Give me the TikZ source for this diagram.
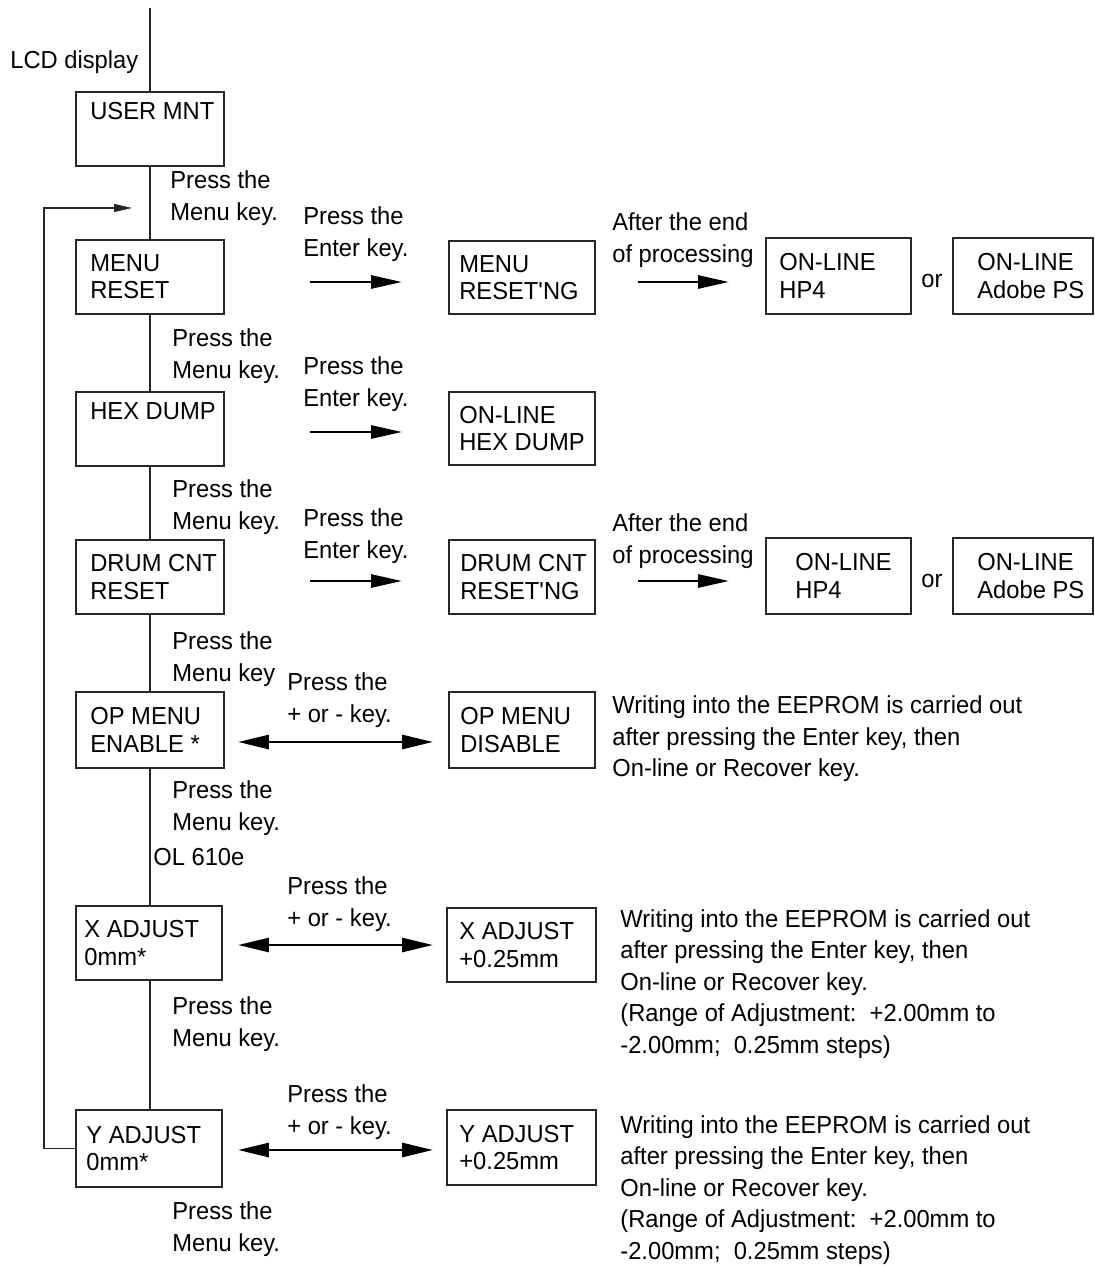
\documentclass[tikz,border=0pt]{standalone}
\usepackage{fontspec}
\setmainfont{Liberation Sans}[FakeStretch=0.965]
\newfontfamily\diagfont{Liberation Sans}[FakeStretch=0.965]
\usetikzlibrary{arrows.meta,fit,calc}
\newcommand\dispbox[7]{%
  \coordinate (#1-a) at (#2,#3);
  \coordinate (#1-b) at (#4,#5);
  \node[boxframe, fit=(#1-a)(#1-b)] (#1) {};
  \node[btxt] (#1-t) at ($(#1.west)+(#6,0)$) {#7};}
\begin{document}
\begin{tikzpicture}[x=0.02cm,y=-0.02cm,
  lbl/.style={font=\diagfont\fontsize{14pt}{18pt}\selectfont, align=left, anchor=west, inner sep=0pt},
  btxt/.style={font=\diagfont\fontsize{14pt}{15.5pt}\selectfont, align=left, anchor=west, inner sep=0pt},
  boxframe/.style={draw=black!85, line width=0.6pt, inner sep=0pt, outer sep=0pt},
  flow/.style={line width=0.6pt, draw=black!85},
  harrow/.style={line width=1.6pt, -{Triangle[length=0.62cm,width=0.26cm]}},
  darrow/.style={line width=1.6pt, {Triangle[length=0.62cm,width=0.28cm]}-{Triangle[length=0.62cm,width=0.28cm]}},
  looparrow/.style={line width=0.6pt, draw=black!85, -{Triangle[length=0.36cm,width=0.16cm]}}]
\useasboundingbox (0,0) rectangle (1094,1266);

% boxes
\dispbox{usr}{76}{92}{224}{166}{14}{USER MNT\\\strut}
\dispbox{mr}{76}{240}{224}{314}{14}{MENU\\RESET}
\dispbox{mrg}{449}{241}{595}{314}{10}{MENU\\RESET'NG}
\dispbox{hpa}{766}{238}{911}{314}{13}{ON-LINE\\HP4}
\dispbox{psa}{953}{238}{1093}{314}{24}{ON-LINE\\Adobe PS}
\dispbox{hex}{76}{392}{224}{466}{14}{HEX DUMP\\\strut}
\dispbox{hexo}{449}{392}{595}{465}{10}{ON-LINE\\HEX DUMP}
\dispbox{drum}{76}{540}{224}{614}{14}{DRUM CNT\\RESET}
\dispbox{drumg}{449}{540}{595}{614}{11}{DRUM CNT\\RESET'NG}
\dispbox{hpb}{766}{538}{911}{614}{29}{ON-LINE\\HP4}
\dispbox{psb}{953}{538}{1093}{614}{24}{ON-LINE\\Adobe PS}
\dispbox{op}{76}{692}{224}{768}{14}{OP MENU\\ENABLE *}
\dispbox{opd}{449}{692}{595}{768}{11}{OP MENU\\DISABLE}
\dispbox{xa}{76}{906}{222}{980}{8}{X ADJUST\\0mm*}
\dispbox{xap}{447}{908}{596}{982}{12}{X ADJUST\\+0.25mm}
\dispbox{ya}{76}{1110}{222}{1187}{10}{Y ADJUST\\0mm*}
\dispbox{yap}{447}{1110}{596}{1185}{12}{Y ADJUST\\+0.25mm}

% main flow line
\coordinate (top) at (150,8);
\draw[flow] (top) -- (usr.north);
\draw[flow] (usr.south) -- (mr.north);
\draw[flow] (mr.south) -- (hex.north);
\draw[flow] (hex.south) -- (drum.north);
\draw[flow] (drum.south) -- (op.north);
\draw[flow] (op.south) -- (op.south |- xa.north);
\draw[flow] (xa.south -| op.south) -- (op.south |- ya.north);

% loop back
\coordinate (lpc) at (44,208);
\coordinate (lpe) at (132,208);
\draw[looparrow] (ya.west) -| (lpc) -- (lpe);

% labels
\node[lbl] (lcd) at (10,62) {LCD display};
\node[lbl] (m1) at (170,198) {Press the\\Menu key.};
\node[lbl] (e1) at (303,234) {Press the\\Enter key.};
\node[lbl] (p1) at (612,240) {After the end\\of processing};
\node[lbl] (or1) at (921,281) {or};
\node[lbl] (m2) at (172,356) {Press the\\Menu key.};
\node[lbl] (e2) at (303,384) {Press the\\Enter key.};
\node[lbl] (m3) at (172,507) {Press the\\Menu key.};
\node[lbl] (e3) at (303,536) {Press the\\Enter key.};
\node[lbl] (p2) at (612,541) {After the end\\of processing};
\node[lbl] (or2) at (921,581) {or};
\node[lbl] (m4) at (172,659) {Press the\\Menu key};
\node[lbl] (k1) at (287,700) {Press the\\+ or - key.};
\node[lbl] (w1) at (612,739) {Writing into the EEPROM is carried out\\after pressing the Enter key, then\\On-line or Recover key.};
\node[lbl] (m5) at (172,808) {Press the\\Menu key.};
\node[lbl] (ol) at (153,857) {OL 610e};
\node[lbl] (k2) at (287,904) {Press the\\+ or - key.};
\node[lbl] (w2) at (620,984) {Writing into the EEPROM is carried out\\after pressing the Enter key, then\\On-line or Recover key.\\(Range of Adjustment:\ \ +2.00mm to\\-2.00mm;\ \ 0.25mm steps)};
\node[lbl] (m6) at (172,1024) {Press the\\Menu key.};
\node[lbl] (k3) at (287,1112) {Press the\\+ or - key.};
\node[lbl] (w3) at (620,1190) {Writing into the EEPROM is carried out\\after pressing the Enter key, then\\On-line or Recover key.\\(Range of Adjustment:\ \ +2.00mm to\\-2.00mm;\ \ 0.25mm steps)};
\node[lbl] (m7) at (172,1229) {Press the\\Menu key.};

% horizontal arrows
\coordinate (a1s) at (310,282); \coordinate (a1e) at (402,282);
\coordinate (b1s) at (638,282); \coordinate (b1e) at (729,282);
\coordinate (a2s) at (310,432); \coordinate (a2e) at (402,432);
\coordinate (a3s) at (310,581); \coordinate (a3e) at (402,581);
\coordinate (b3s) at (638,581); \coordinate (b3e) at (729,581);
\draw[harrow] (a1s) -- (a1e);
\draw[harrow] (b1s) -- (b1e);
\draw[harrow] (a2s) -- (a2e);
\draw[harrow] (a3s) -- (a3e);
\draw[harrow] (b3s) -- (b3e);
\coordinate (d1s) at (238,742); \coordinate (d1e) at (433,742);
\coordinate (d2s) at (238,945); \coordinate (d2e) at (433,945);
\coordinate (d3s) at (238,1150); \coordinate (d3e) at (433,1150);
\draw[darrow] (d1s) -- (d1e);
\draw[darrow] (d2s) -- (d2e);
\draw[darrow] (d3s) -- (d3e);
\end{tikzpicture}
\end{document}
